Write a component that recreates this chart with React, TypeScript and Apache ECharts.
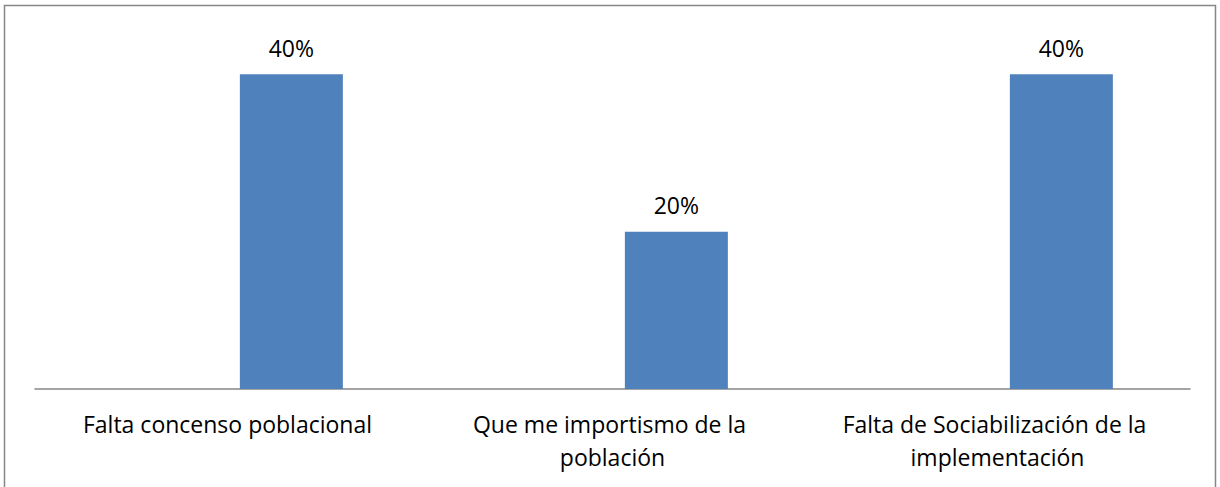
import React, { useEffect, useRef } from "react";
import * as echarts from "echarts";

const categories = [
  "Falta concenso poblacional",
  "Que me importismo de la población",
  "Falta de Sociabilización de la implementación",
];
const values = [40, 20, 40];
const emptyValues = [null, null, null];

export default function App() {
  const ref = useRef<HTMLDivElement>(null);
  useEffect(() => {
    if (!ref.current) return;
    const chart = echarts.init(ref.current, null, { renderer: "svg" });
    const font = "'Open Sans', sans-serif";
    chart.setOption({
      animation: false,
      backgroundColor: "#ffffff",
      textStyle: { fontFamily: font },
      graphic: [
        {
          type: "rect",
          shape: { x: 4.5, y: 5.5, width: 1211, height: 490 },
          style: { fill: "none", stroke: "#868686", lineWidth: 1.5 },
          silent: true,
        },
      ],
      grid: { left: 35, right: 30, top: 35, bottom: 98 },
      xAxis: {
        type: "category",
        data: categories,
        axisLine: { show: true, lineStyle: { color: "#868686", width: 1.5 } },
        axisTick: { show: false },
        axisLabel: {
          color: "#000000",
          fontFamily: font,
          fontSize: 23,
          margin: 18,
          lineHeight: 33,
          width: 335,
          overflow: "break",
          interval: 0,
        },
      },
      yAxis: {
        type: "value",
        min: 0,
        max: 45,
        show: false,
        splitLine: { show: false },
      },
      series: [
        {
          type: "bar",
          data: emptyValues,
          barWidth: 103,
          barGap: "24%",
          itemStyle: { color: "transparent" },
          silent: true,
        },
        {
          type: "bar",
          data: values,
          barWidth: 103,
          barGap: "24%",
          itemStyle: { color: "#4F81BD" },
          label: {
            show: true,
            position: "top",
            distance: 15,
            color: "#000000",
            fontFamily: font,
            fontSize: 23,
            formatter: (p: any) => `${p.value}%`,
          },
        },
      ],
    });
    return () => chart.dispose();
  }, []);
  return (
    <div
      ref={ref}
      style={{ position: "fixed", left: 0, top: 0, width: 1220, height: 487 }}
    />
  );
}
